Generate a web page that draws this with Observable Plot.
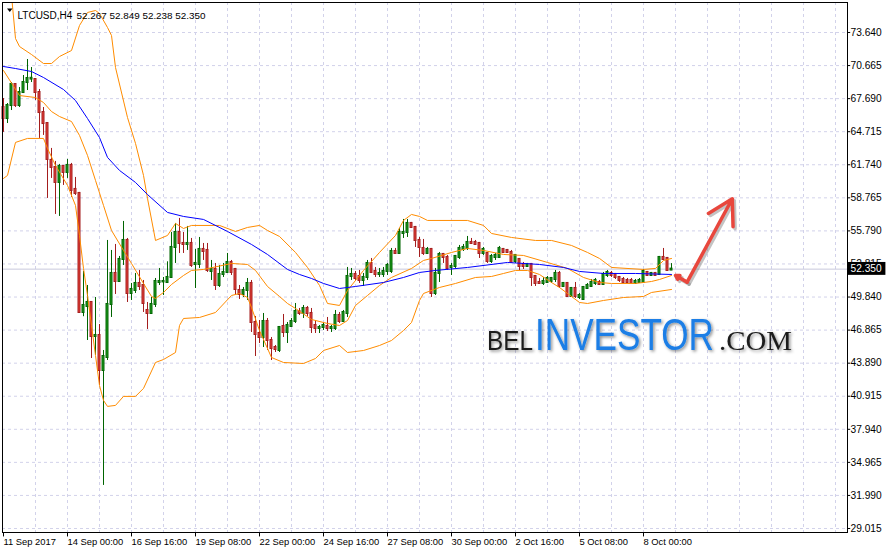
<!DOCTYPE html>
<html><head><meta charset="utf-8">
<script src="https://cdn.jsdelivr.net/npm/d3@7"></script>
<script src="https://cdn.jsdelivr.net/npm/@observablehq/plot@0.6"></script>
<style>
html,body{margin:0;padding:0;background:#fff;}
#chart{width:888px;height:552px;}
</style></head><body><div id="chart"></div>
<script>
const symbolTitle = "LTCUSD,H4";
const lastQuote = "52.267 52.849 52.238 52.350";
const bidPrice = 52.350;

const open = [
66.89,65.90,67.07,68.96,67.07,68.24,69.14,69.45,69.41,68.24,
66.44,65.45,62.13,61.50,60.15,61.59,61.05,61.68,59.52,59.16,
48.45,48.99,49.35,46.29,46.38,43.23,44.40,49.17,51.96,51.24,
53.22,54.93,50.16,50.43,51.06,50.88,48.63,48.36,49.17,51.15,
51.20,51.15,51.60,54.30,55.65,54.66,54.57,54.66,52.77,52.77,
54.12,54.03,52.14,52.32,50.88,51.87,52.05,52.95,52.32,50.43,
50.07,50.43,51.06,47.55,46.56,46.20,47.64,45.93,45.30,45.03,
47.19,46.65,47.19,47.64,48.54,48.36,48.81,48.36,47.28,47.01,
47.10,47.19,47.01,47.01,48.18,47.64,48.36,51.69,51.87,51.69,
51.33,51.60,52.86,52.14,51.87,51.87,52.14,52.14,53.94,53.76,
55.56,55.65,56.46,56.10,54.93,54.21,53.76,54.12,50.16,51.96,
53.67,53.40,52.50,52.59,53.40,54.12,54.21,54.75,54.75,54.66,
53.76,53.76,53.04,53.40,53.40,54.12,54.03,53.85,53.04,53.22,
52.77,52.59,52.77,51.69,51.15,51.06,51.15,51.24,51.42,51.96,
50.79,51.06,49.89,50.61,49.80,49.62,50.61,50.79,51.06,51.15,
50.97,51.78,51.96,51.87,51.60,51.42,51.33,51.33,51.06,51.15,
51.15,52.05,51.78,51.96,51.87,53.40,53.31,52.267];
const high = [
67.70,67.25,69.14,69.05,68.69,69.77,71.21,70.49,69.45,68.51,
66.89,65.54,63.21,62.04,61.77,61.65,62.22,61.86,60.60,59.25,
52.14,50.88,49.40,49.80,47.37,45.03,54.93,54.03,54.57,53.49,
56.64,55.11,51.06,51.96,52.23,51.33,49.35,49.80,51.51,52.41,
51.60,53.01,55.65,56.46,56.91,55.65,56.19,55.11,54.12,55.20,
54.66,54.66,53.13,52.86,52.68,52.86,53.76,53.13,52.41,50.88,
50.70,51.51,51.33,48.09,47.73,48.36,47.91,46.20,45.48,47.19,
48.27,47.55,47.91,49.26,48.81,49.08,48.99,48.81,47.73,47.28,
47.55,48.00,47.28,48.63,48.45,48.63,52.50,52.41,52.14,52.23,
51.96,53.13,53.31,52.50,52.41,52.50,52.86,54.21,54.21,56.01,
56.82,56.82,56.55,56.19,55.20,55.02,54.30,54.21,52.41,53.85,
53.76,53.58,52.86,53.58,54.48,54.57,55.29,55.11,54.93,54.75,
54.30,53.85,53.67,53.76,54.39,54.21,54.12,54.03,53.67,53.31,
52.95,52.86,52.86,51.78,51.51,51.60,51.69,51.60,52.23,52.14,
51.15,51.15,50.70,51.15,50.16,50.79,51.06,51.42,51.51,51.33,
52.05,52.23,52.14,51.96,51.69,51.60,51.51,51.51,51.42,51.51,
52.32,52.14,52.05,52.05,53.49,54.21,53.40,52.849];
const low = [
64.65,65.45,66.62,66.89,66.89,68.15,68.42,69.14,67.52,64.11,
64.38,58.71,60.51,57.27,57.09,59.88,60.51,58.80,58.98,48.36,
48.07,45.93,44.31,44.58,41.88,32.89,44.13,48.00,50.07,51.15,
52.68,49.35,49.53,50.16,50.43,48.45,46.92,48.27,48.90,50.88,
49.98,51.10,51.51,52.86,53.76,53.76,54.03,52.50,50.61,52.41,
53.13,52.05,51.33,50.43,50.70,51.60,51.96,51.78,49.98,49.62,
49.80,49.53,46.65,44.49,45.66,45.30,45.03,44.13,44.85,44.85,
46.20,45.66,47.10,47.46,48.18,47.91,48.09,46.56,46.56,46.56,
46.83,46.74,46.65,46.83,47.46,47.55,48.00,51.33,51.33,51.06,
50.79,51.33,51.96,51.60,51.60,51.60,51.78,51.96,53.76,53.76,
55.11,55.20,56.01,54.30,53.40,53.58,53.67,49.80,49.98,51.15,
52.86,52.23,51.78,52.41,53.22,53.94,54.03,54.57,54.48,53.31,
53.58,52.86,52.86,53.13,53.31,53.76,53.76,52.86,52.86,52.23,
52.32,52.50,50.79,50.79,50.97,50.88,51.06,51.06,51.15,50.61,
50.70,49.80,49.80,49.71,49.62,49.53,50.52,50.70,50.88,50.88,
50.88,51.60,51.60,51.42,51.15,51.06,51.06,51.06,50.97,51.06,
51.06,51.69,51.69,51.69,51.78,53.22,52.14,52.238];
const close = [
65.90,67.07,68.96,67.07,68.24,69.14,69.50,69.52,68.24,66.44,
65.45,62.22,61.50,60.15,61.59,61.05,61.68,59.43,59.16,48.45,
49.08,49.35,46.29,46.38,43.23,44.49,49.17,51.96,51.24,53.22,
54.93,50.16,50.52,51.06,50.79,49.26,48.36,49.17,51.24,51.24,
51.24,51.60,54.30,55.65,54.66,54.57,54.66,52.68,52.86,54.12,
53.94,52.23,52.32,50.88,51.87,52.05,52.95,52.05,50.52,50.07,
50.43,51.06,47.55,46.47,46.20,47.64,45.93,45.21,45.12,47.10,
46.65,47.28,47.64,48.54,48.36,48.81,48.36,47.10,47.01,47.10,
47.28,47.01,47.10,48.18,47.64,48.45,51.69,51.87,51.51,51.33,
51.60,52.86,52.05,51.87,51.96,52.14,52.68,53.94,53.76,55.65,
55.65,56.46,56.10,54.93,54.30,53.76,54.12,50.16,51.96,53.67,
53.40,52.41,52.59,53.49,54.21,54.30,54.75,54.66,54.57,53.76,
54.12,53.04,53.49,53.58,54.21,53.85,53.85,52.95,53.58,52.59,
52.59,52.77,51.60,51.06,51.06,51.24,51.51,51.51,51.96,50.79,
51.06,49.89,50.61,49.89,49.98,50.70,50.88,51.15,51.33,50.97,
51.87,52.05,51.78,51.60,51.33,51.15,51.15,51.06,51.24,51.33,
52.14,51.78,51.96,51.78,53.40,53.22,52.23,52.350];

// Bollinger bands and moving average, [bar, price]
const upperBand = [[0,80.5],[1,79.0],[2,77.0],[3,73.10],[4,72.38],[7,71.66],[10,70.85],[12,70.85],[14,71.48],[17,72.02],[19,74.27],[21,75.44],[23,75.62],[24,75.35],[26,74.09],[27,73.37],[28,70.49],[31,65.99],[33,63.66],[35,60.78],[36,58.71],[38,54.93],[41,55.38],[43,56.46],[45,56.01],[47,56.28],[54,56.28],[58,55.74],[61,56.10],[64,56.28],[66,55.83],[69,55.29],[73,53.85],[76,52.50],[79,50.88],[81,49.26],[84,49.08],[86,50.43],[90,52.23],[94,53.85],[98,55.38],[100,56.73],[102,57.27],[104,57.09],[106,56.73],[116,56.73],[120,56.28],[122,55.56],[127,55.20],[133,54.93],[137,54.93],[142,54.48],[146,53.85],[149,53.31],[152,52.50],[160,52.32],[163,52.41],[165,53.13],[167,53.31]];
const middleBand = [[0,70.22],[4,67.97],[8,67.79],[10,67.34],[12,66.53],[14,66.08],[17,65.63],[19,64.38],[21,62.58],[23,60.33],[25,58.08],[27,55.83],[30,54.03],[32,52.86],[35,51.06],[37,49.89],[38,49.71],[40,50.25],[42,50.97],[45,51.78],[47,52.23],[50,52.32],[57,52.86],[61,52.77],[63,52.23],[66,50.79],[69,49.89],[71,49.26],[73,48.81],[77,47.82],[81,47.46],[84,47.28],[86,47.73],[88,49.08],[91,49.98],[94,50.88],[97,51.60],[102,52.41],[105,53.13],[107,53.31],[112,53.85],[116,54.21],[120,54.03],[125,53.67],[130,53.58],[136,52.95],[141,52.41],[145,51.60],[149,51.15],[152,51.06],[158,51.06],[162,51.24],[164,51.42],[167,51.78]];
const lowerBand = [[0,60.51],[1,60.78],[3,63.75],[6,64.11],[10,64.11],[11,63.21],[13,61.68],[16,59.88],[18,58.08],[19,55.38],[20,52.41],[21,49.98],[22,47.28],[23,44.58],[24,41.88],[25,40.54],[26,40.00],[28,40.09],[30,40.90],[33,40.90],[35,41.62],[38,43.95],[40,44.22],[43,44.85],[44,47.28],[45,47.91],[49,48.00],[53,48.45],[57,49.98],[59,50.16],[61,49.80],[62,48.90],[64,46.83],[67,44.40],[70,43.95],[75,43.86],[78,44.31],[80,45.03],[84,45.48],[86,44.85],[90,45.03],[94,45.48],[97,45.93],[100,46.83],[102,47.55],[104,49.53],[105,50.16],[109,50.70],[113,51.06],[118,51.60],[122,51.69],[125,51.96],[128,52.23],[131,52.23],[134,51.87],[137,51.15],[139,50.70],[141,50.16],[144,49.35],[146,49.26],[150,49.53],[155,49.80],[160,49.89],[162,50.25],[167,50.52]];
const movingAverage = [[0,70.58],[3,70.40],[7,70.13],[10,69.59],[15,68.51],[18,67.52],[21,65.90],[24,64.19],[26,62.40],[29,61.23],[33,60.15],[36,59.06],[41,57.45],[45,57.09],[50,56.82],[56,55.74],[62,54.57],[66,53.67],[71,52.32],[74,51.87],[77,51.51],[80,51.06],[84,50.61],[88,50.79],[95,51.15],[100,51.60],[104,52.05],[108,52.23],[116,52.50],[126,52.95],[134,52.77],[140,52.50],[144,52.14],[150,51.96],[158,51.96],[167,51.87]];

const yTicks = [73.640,70.665,67.690,64.715,61.740,58.765,55.790,52.815,49.840,46.865,43.890,40.915,37.940,34.965,31.990,29.015];
const xTickBars = [0,16,32,48,64,80,96,112,128,144,160];
const xTickLabels = ["11 Sep 2017","14 Sep 00:00","16 Sep 16:00","19 Sep 08:00","22 Sep 00:00","24 Sep 16:00","27 Sep 08:00","30 Sep 00:00","2 Oct 16:00","5 Oct 08:00","8 Oct 00:00"];
// hand-drawn forecast arrow: [bar, price]
const forecastArrow = [[168.0,51.78],[170.9,51.18],[182.2,58.68]];

const candles = open.map((o, i) => ({i, o, h: high[i], l: low[i], c: close[i], up: close[i] >= o}));
const ups = candles.filter(d => d.up), downs = candles.filter(d => !d.up);
const pts = arr => arr.map(([i, v]) => ({i, v}));
const xDomain = [-0.25, 211];
const yDomain = [28.655, 76.339];
const gridBars = d3.range(8, 211, 8);
const xTicks = xTickBars.map((b, k) => ({b, label: xTickLabels[k]}));
const FONT = "'Liberation Sans', Arial, sans-serif";
const bodyLo = d => Math.min(d.o, d.c), bodyHi = d => Math.max(d.o, d.c);
const [a0, a1, a2] = forecastArrow;
const arrowSegs = [{x1: a1[0], y1: a1[1], x2: a2[0], y2: a2[1]}, {x1: a1[0], y1: a1[1], x2: a0[0], y2: a0[1]}];

const chart = Plot.plot({
  width: 888, height: 552,
  marginTop: 2, marginBottom: 20, marginLeft: 2, marginRight: 41,
  x: {domain: xDomain, axis: null},
  y: {domain: yDomain, axis: null},
  style: {background: "#ffffff", fontFamily: FONT, fontSize: "9.3px", color: "#000"},
  marks: [
    Plot.ruleY(yTicks, {stroke: "#d2d2ea", strokeDasharray: "3,3"}),
    Plot.ruleX(gridBars, {stroke: "#d2d2ea", strokeDasharray: "3,3"}),
    Plot.ruleY([bidPrice], {stroke: "#c8c8dc"}),
    Plot.ruleX(ups, {x: "i", y1: "l", y2: "h", stroke: "#006400"}),
    Plot.ruleX(downs, {x: "i", y1: "l", y2: "h", stroke: "#a31d1d"}),
    Plot.rect(ups, {x1: d => d.i - 0.25, x2: d => d.i + 0.25, y1: bodyLo, y2: bodyHi, fill: "#1f9e1f", stroke: "#006400", insetTop: -0.5, insetBottom: -0.5}),
    Plot.rect(downs, {x1: d => d.i - 0.25, x2: d => d.i + 0.25, y1: bodyLo, y2: bodyHi, fill: "#e8433b", stroke: "#a31d1d", insetTop: -0.5, insetBottom: -0.5}),
    Plot.line(pts(upperBand), {x: "i", y: "v", stroke: "#ff8c00", strokeWidth: 1, clip: true}),
    Plot.line(pts(middleBand), {x: "i", y: "v", stroke: "#ff8c00", strokeWidth: 1}),
    Plot.line(pts(lowerBand), {x: "i", y: "v", stroke: "#ff8c00", strokeWidth: 1}),
    Plot.line(pts(movingAverage), {x: "i", y: "v", stroke: "#0000ff", strokeWidth: 1}),
    Plot.frame({stroke: "#000"}),
    // right axis ticks & labels
    Plot.ruleY(yTicks, {x1: xDomain[1], x2: xDomain[1] + 0.8, stroke: "#000"}),
    Plot.text(yTicks, {x: xDomain[1], y: d => d, text: d => d.toFixed(3), textAnchor: "start", dx: 3, fontSize: 10.2, fill: "#000"}),
    // bottom axis ticks & labels
    Plot.ruleX(xTicks, {x: "b", y1: yDomain[0], y2: yDomain[0] - 0.4, stroke: "#000"}),
    Plot.text(xTicks, {x: "b", y: yDomain[0], text: "label", textAnchor: "start", dx: 0, dy: 9, fontSize: 9.4, fill: "#000"}),
    // bid price box
    Plot.rect([bidPrice], {x1: xDomain[1] + 0.1, x2: xDomain[1] + 9.6, y1: d => d - 0.56, y2: d => d + 0.6, fill: "#000"}),
    Plot.text([bidPrice], {x: xDomain[1], y: d => d, text: d => d.toFixed(3), textAnchor: "start", dx: 3, fontSize: 10.2, fill: "#fff"}),
    // title
    Plot.text([symbolTitle], {frameAnchor: "top-left", dx: 15, dy: 9, textAnchor: "start", fontSize: 10, fill: "#000"}),
    Plot.text([lastQuote], {frameAnchor: "top-left", dx: 74, dy: 9, textAnchor: "start", fontSize: 9.9, fill: "#000"}),
    // forecast arrow (shadow + arrow)
    Plot.arrow(arrowSegs, {x1: "x1", y1: "y1", x2: "x2", y2: "y2", stroke: "#7a7a7a", strokeOpacity: 0.45, strokeWidth: 3.5, headLength: 12, dx: 2, dy: 2}),
    Plot.arrow(arrowSegs, {x1: "x1", y1: "y1", x2: "x2", y2: "y2", stroke: "#e8473d", strokeWidth: 3.5, headLength: 12})
  ]
});
document.getElementById("chart").appendChild(chart);

const svg = d3.select(chart);
// dropdown triangle next to the symbol
svg.append("path").attr("d", "M7,8.5 L12.5,8.5 L9.75,12 Z").attr("fill", "#000");
// watermark
const defs = svg.append("defs");
defs.append("filter").attr("id", "wmShadow").attr("x", "-10%").attr("y", "-40%").attr("width", "130%").attr("height", "180%")
  .append("feDropShadow").attr("dx", 1.5).attr("dy", 1.5).attr("stdDeviation", 1.6)
  .attr("flood-color", "#000").attr("flood-opacity", 0.45);
const wm = svg.append("g").attr("filter", "url(#wmShadow)").attr("text-anchor", "start");
wm.append("text").attr("x", 487).attr("y", 350).attr("text-anchor", "start").attr("font-family", FONT).attr("font-size", 28)
  .attr("fill", "#1c1c1c").attr("textLength", 46).attr("lengthAdjust", "spacingAndGlyphs").text("BEL");
wm.append("text").attr("x", 535).attr("y", 350).attr("text-anchor", "start").attr("font-family", FONT).attr("font-size", 44)
  .attr("fill", "#1a7ee6").attr("textLength", 179).attr("lengthAdjust", "spacingAndGlyphs").text("INVESTOR");
wm.append("text").attr("x", 719).attr("y", 350).attr("text-anchor", "start").attr("font-family", "'Liberation Serif', 'DejaVu Serif', serif").attr("font-size", 28)
  .attr("fill", "#1c1c1c").attr("textLength", 73).attr("lengthAdjust", "spacingAndGlyphs").text(".COM");
</script>
</body></html>
